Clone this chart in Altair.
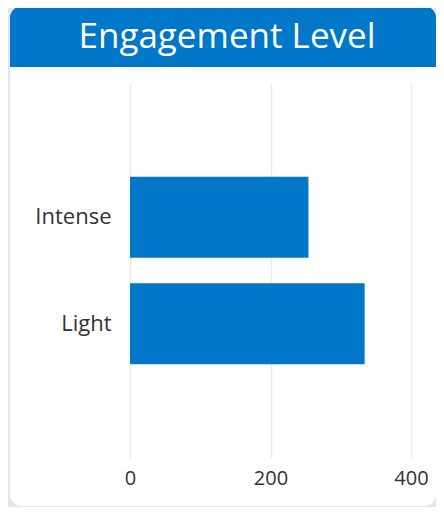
import altair as alt
import pandas as pd

categories = ["Intense", "Light"]
values = [254, 334]
title_text = "Engagement Level"
x_ticks = [0, 200, 400]

df = pd.DataFrame({"level": categories, "count": values})

W, H = 281, 375
PL, PT, PR, PB = 122, 75, 25, 49

one = alt.Data(values=[{"k": 1}])

header = alt.Chart(one).mark_rect(
    color="#0077C8", cornerRadiusTopLeft=12, cornerRadiusTopRight=12
).encode(
    x=alt.value(-PL + 2), x2=alt.value(W + PR + 10),
    y=alt.value(-PT - 8), y2=alt.value(-16),
)

title = alt.Chart(one).mark_text(
    text=title_text, color="white", font="Open Sans", fontSize=35,
    align="center", baseline="middle",
).encode(x=alt.value(97), y=alt.value(-46))

# gray frame around the rounded white card (stroke only, so it covers nothing inside)
frame = alt.Chart(one).mark_rect(
    fill=None, fillOpacity=0, stroke="#e6e6e6", strokeWidth=20, cornerRadius=22,
).encode(
    x=alt.value(-PL + 2 - 10), x2=alt.value(W + PR + 10),
    y=alt.value(-PT - 12), y2=alt.value(H + PB - 1 + 10),
)

bars = alt.Chart(df).mark_bar(color="#0077C8").encode(
    x=alt.X("count:Q", scale=alt.Scale(domain=[0, 400], nice=False),
            axis=alt.Axis(values=x_ticks, title=None, grid=True, domain=False,
                          ticks=False, labelPadding=10, labelFontSize=20,
                          labelFlush=False,
                          labelColor="#333333", labelFont="Open Sans",
                          gridColor="#ebebeb", gridWidth=1.5)),
    y=alt.Y("level:N", sort=categories,
            scale=alt.Scale(paddingInner=0.24, paddingOuter=0.88),
            axis=alt.Axis(title=None, domain=False, ticks=False, grid=False,
                          labelPadding=19, labelFontSize=22,
                          labelColor="#333333", labelFont="Open Sans")),
)

chart = alt.layer(header, title, bars, frame).properties(
    width=W, height=H,
    autosize=alt.AutoSizeParams(type="none"),
    padding={"left": PL, "top": PT, "right": PR, "bottom": PB},
    background="white",
).configure_view(stroke=None)

chart.save("out.html", embed_options={"renderer": "svg", "actions": False})
